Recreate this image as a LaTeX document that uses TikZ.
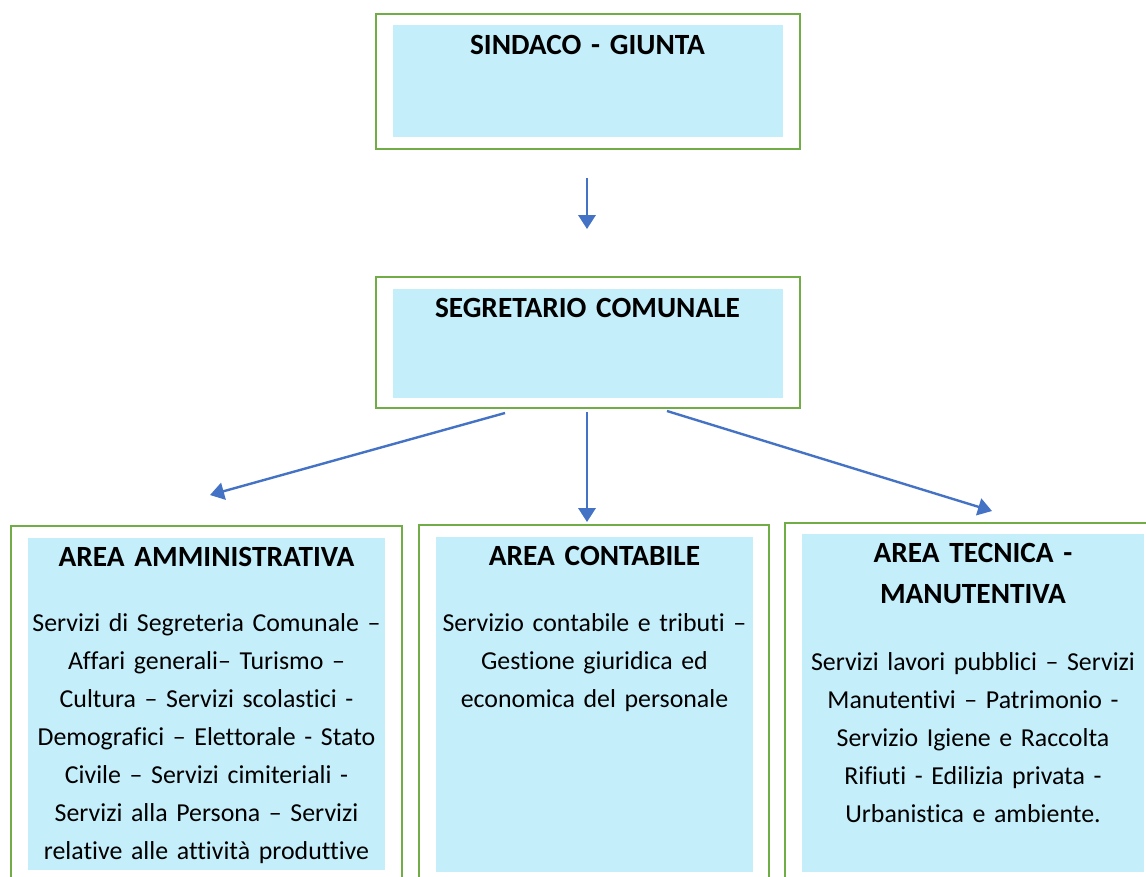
\documentclass[tikz,border=0pt]{standalone}
\usepackage{fontspec}
\setmainfont{Carlito}[Ligatures=NoCommon]
\usetikzlibrary{positioning,arrows.meta}

\definecolor{boxgreen}{RGB}{112,173,71}
\definecolor{boxfill}{RGB}{197,238,251}
\definecolor{linkblue}{RGB}{68,114,196}

\tikzset{
  outerbox/.style={draw=boxgreen, line width=2.2pt, inner sep=0pt},
  innerbox/.style={fill=boxfill, inner sep=0pt},
  boxtitle/.style={font=\fontsize{22}{30.75}\selectfont\bfseries, text width=#1, align=center, anchor=base, inner sep=0pt},
  boxbody/.style={font=\fontsize{19.4}{28.5}\selectfont, text width=#1, align=center, anchor=base, inner sep=0pt},
  link/.style={-{Triangle[length=10.5pt,width=13pt]}, draw=linkblue, line width=1.8pt}
}

\begin{document}
\begin{tikzpicture}[x=0.75pt, y=-0.75pt]
   \clip (0,0) rectangle (1146,876);

   % vertice
   \node[outerbox, minimum width=318pt, minimum height=101.25pt] (sindaco) at (588,81.5) {};
   \node[innerbox, minimum width=292.5pt, minimum height=84pt] (sindacoin) at (588,81) {};
   \node[boxtitle=280pt] (sindacotxt) at (587.5,54) {SINDACO - GIUNTA};

   \node[outerbox, minimum width=318pt, minimum height=98.25pt] (segretario) at (588,342.5) {};
   \node[innerbox, minimum width=292.5pt, minimum height=81.75pt] (segretarioin) at (588,343.5) {};
   \node[boxtitle=280pt] (segretariotxt) at (587.5,317) {SEGRETARIO COMUNALE};

   % aree
   \node[outerbox, minimum width=293.25pt, minimum height=280.5pt] (amm) at (206.5,713) {};
   \node[innerbox, minimum width=267.75pt, minimum height=249pt] (ammin) at (206.5,704) {};
   \node[boxtitle=300pt] (ammtitle) at (206.5,566) {AREA AMMINISTRATIVA};
   \node[boxbody=300pt] (ammtxt) at (206.5,631) {Servizi di Segreteria Comunale –\\
      Affari generali– Turismo –\\ Cultura – Servizi scolastici -\\
      Demografici – Elettorale - Stato\\ Civile – Servizi cimiteriali -\\
      Servizi alla Persona – Servizi\\ relative alle attività produttive};

   \node[outerbox, minimum width=262.5pt, minimum height=281.25pt] (cont) at (594,712.5) {};
   \node[innerbox, minimum width=237.75pt, minimum height=251.25pt] (contin) at (594.5,704.5) {};
   \node[boxtitle=260pt] (conttitle) at (594.5,565) {AREA CONTABILE};
   \node[boxbody=260pt] (conttxt) at (594.5,631) {Servizio contabile e tributi –\\
      Gestione giuridica ed\\ economica del personale};

   \node[outerbox, minimum width=281.25pt, minimum height=282.75pt] (tecn) at (972.5,711.5) {};
   \node[innerbox, minimum width=256.5pt, minimum height=253.5pt] (tecnin) at (973,703) {};
   \node[boxtitle=270pt] (tecntitle) at (973,562) {AREA TECNICA -\\ MANUTENTIVA};
   \node[boxbody=270pt] (tecntxt) at (973,670) {Servizi lavori pubblici – Servizi\\
      Manutentivi – Patrimonio -\\ Servizio Igiene e Raccolta\\
      Rifiuti - Edilizia privata -\\ Urbanistica e ambiente.};

   % frecce
   \coordinate (top1) at (587,178);
   \coordinate (top2) at (587,229);
   \coordinate (sx1) at (505,413);
   \coordinate (sx2) at (210,495);
   \coordinate (cx1) at (587,412);
   \coordinate (cx2) at (587,522);
   \coordinate (dx1) at (667,411);
   \coordinate (dx2) at (992,511);
   \path
    (top1) edge[link] (top2)
    (sx1) edge[link] (sx2)
    (cx1) edge[link] (cx2)
    (dx1) edge[link] (dx2);
\end{tikzpicture}
\end{document}
